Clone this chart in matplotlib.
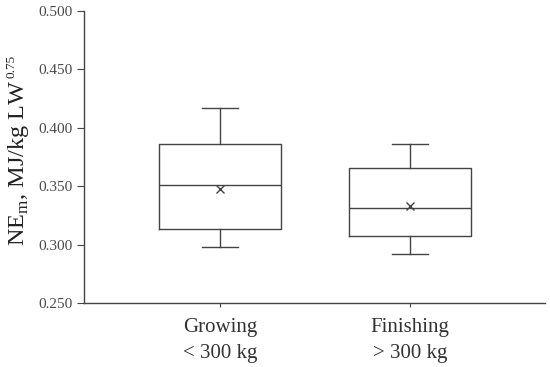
import matplotlib
matplotlib.use("Agg")
import matplotlib.pyplot as plt

categories = ["Growing\n< 300 kg", "Finishing\n> 300 kg"]
whisker_low = [0.298, 0.292]
q1 = [0.313, 0.307]
median = [0.351, 0.331]
q3 = [0.386, 0.366]
whisker_high = [0.417, 0.386]
mean = [0.348, 0.333]
yticks = [0.250, 0.300, 0.350, 0.400, 0.450, 0.500]

plt.rcParams['font.family'] = ['Liberation Serif', 'DejaVu Serif']
plt.rcParams['mathtext.fontset'] = 'custom'
plt.rcParams['mathtext.rm'] = 'Liberation Serif'
col = '#444444'

fig = plt.figure(figsize=(5.5, 3.67), dpi=100)
ax = fig.add_axes([0.1527, 0.1744, 0.838, 0.7956])

stats = []
for i in range(len(categories)):
    stats.append(dict(med=median[i], q1=q1[i], q3=q3[i], whislo=whisker_low[i],
                      whishi=whisker_high[i], mean=mean[i], fliers=[], label=categories[i]))

ax.bxp(stats, positions=[1, 2], widths=0.645, capwidths=0.19, showmeans=True,
       showfliers=False,
       boxprops=dict(color=col, linewidth=1.0),
       medianprops=dict(color=col, linewidth=1.0),
       whiskerprops=dict(color=col, linewidth=1.0),
       capprops=dict(color=col, linewidth=1.0),
       meanprops=dict(marker='x', markeredgecolor=col, markersize=6, markeredgewidth=1.0))

ax.set_xlim(0.284, 2.71)
ax.set_ylim(0.25, 0.5)
ax.set_yticks(yticks)
ax.set_yticklabels([f"{v:.3f}" for v in yticks], fontsize=11, color='#4a4a4a')
ax.set_xticks([1, 2])
ax.set_xticklabels(categories, fontsize=15, color='#333333', linespacing=1.48)
ax.tick_params(axis='x', length=3, width=0.8, color=col, pad=8)
ax.tick_params(axis='y', length=5, width=0.8, color=col, pad=3)
for s in ['top', 'right']:
    ax.spines[s].set_visible(False)
for s in ['left', 'bottom']:
    ax.spines[s].set_color(col)
    ax.spines[s].set_linewidth(1.0)

ax.set_ylabel("NE$_{\\mathrm{m}}$, MJ/kg LW", fontsize=17.5, color='#222222')
ax.yaxis.set_label_coords(-0.1145, 0.481)

# small superscript placed right after the label's end
fig.canvas.draw()
bb = ax.yaxis.label.get_window_extent(fig.canvas.get_renderer())
fig.text(bb.x1 - 17, bb.y1 + 1, "0.75", transform=None, rotation=90,
         rotation_mode='anchor', ha='left', va='baseline', fontsize=9.5, color='#222222')

fig.savefig("out.png", dpi=100)
